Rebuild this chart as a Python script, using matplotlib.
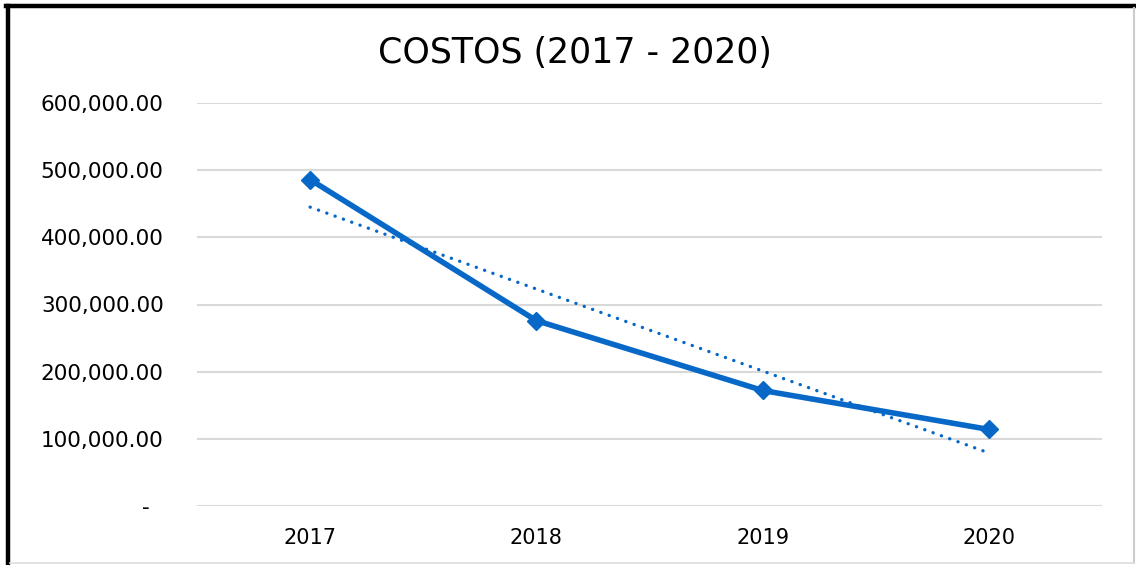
import matplotlib
matplotlib.use("Agg")
import matplotlib.pyplot as plt
import numpy as np
from matplotlib.lines import Line2D
from matplotlib.ticker import FuncFormatter

years = ["2017", "2018", "2019", "2020"]
costos = [486000, 276000, 172000, 114000]
yticks = [0, 100000, 200000, 300000, 400000, 500000, 600000]
title = "COSTOS (2017 - 2020)"

plt.rcParams['font.family'] = ['DejaVu Sans']

fig = plt.figure(figsize=(11.36, 5.65), dpi=100)
ax = fig.add_axes([197/1136, 59/565, 905/1136, 403/565])

x = np.arange(len(years))
blue = "#0868C8"

# linear trendline from data
coef = np.polyfit(x, costos, 1)
trend = np.polyval(coef, x)
ax.plot(x, trend, color=blue, lw=2.4, linestyle=(0, (0.05, 2.6)),
        dash_capstyle='round', solid_capstyle='round', zorder=3)

ax.plot(x, costos, color=blue, lw=4.0, marker='D', markersize=9.5,
        solid_joinstyle='miter', zorder=4)

ax.set_xlim(-0.5, len(years) - 0.5)
ax.set_ylim(0, 600000)
ax.set_xticks(x)
ax.set_xticklabels(years, fontsize=15)
ax.set_yticks(yticks)
ax.yaxis.set_major_formatter(FuncFormatter(
    lambda v, p: "-  " if v == 0 else f"{v:,.2f}"))
ax.tick_params(axis='y', labelsize=15.5, length=0, pad=24)
ax.tick_params(axis='x', length=0, pad=16)
ax.grid(axis='y', color='#D9D9D9', lw=1.5)
ax.set_axisbelow(True)
for s in ax.spines.values():
    s.set_visible(False)

fig.text(575/1136, 1 - 53/565, title, ha='center', va='center', fontsize=25)

# figure border (screenshot style)
fig.add_artist(Line2D([8/1136, 8/1136], [0, 1 - 6/565], transform=fig.transFigure,
                      color='black', lw=3.2))
fig.add_artist(Line2D([6/1136, 1134/1136], [1 - 6/565, 1 - 6/565], transform=fig.transFigure,
                      color='black', lw=3.2))
fig.add_artist(Line2D([1134/1136, 1134/1136], [2/565, 1 - 8/565], transform=fig.transFigure,
                      color='#CCCCCC', lw=1.5))
fig.add_artist(Line2D([10/1136, 1134/1136], [2/565, 2/565], transform=fig.transFigure,
                      color='#DDDDDD', lw=1.2))

fig.savefig("out.png", dpi=100)
